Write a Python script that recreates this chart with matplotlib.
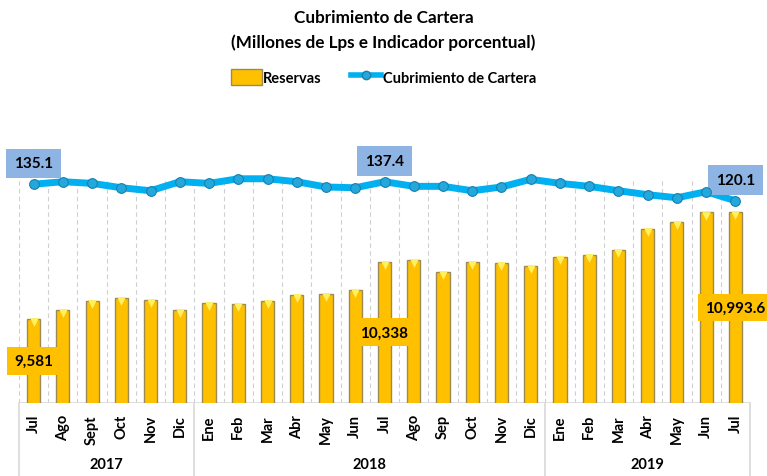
import matplotlib.pyplot as plt
from matplotlib.patches import Patch
from matplotlib.lines import Line2D

plt.rcParams['font.family'] = ['Lato', 'DejaVu Sans']

# data
months = ['Jul', 'Ago', 'Sept', 'Oct', 'Nov', 'Dic',
          'Ene', 'Feb', 'Mar', 'Abr', 'May', 'Jun', 'Jul', 'Ago', 'Sep', 'Oct', 'Nov', 'Dic',
          'Ene', 'Feb', 'Mar', 'Abr', 'May', 'Jun', 'Jul']
years = ['2017', '2018', '2019']
year_counts = [6, 12, 7]
reservas = [9581, 9700, 9819, 9858, 9832, 9700,
            9792, 9779, 9819, 9898, 9911, 9964, 10338, 10360, 10201, 10333, 10320, 10280,
            10400, 10426, 10492, 10769, 10861, 10990, 10993.6]
cubrimiento = [135.1, 137.4, 135.9, 131.9, 129.2, 137.4,
               135.9, 140.1, 140.1, 137.4, 132.6, 131.9, 137.4, 133.2, 133.2, 129.2, 132.6, 139.6,
               135.9, 133.2, 129.2, 125.6, 122.8, 128.3, 120.1]
label_idx = [0, 12, 24]
bar_fmt = ['{:,.0f}', '{:,.0f}', '{:,.1f}']

gold = '#FFC000'
blue = '#00B0F0'
grid_c = '#D9D9D9'

fig = plt.figure(figsize=(7.67, 4.77), dpi=100)
ax = fig.add_axes([19/767, 73/477, 731/767, 226/477])
ax2 = ax.twinx()

x = list(range(len(months)))
ymin, ymax = 8472, 11455
ax.set_xlim(-0.5, len(months) - 0.5)
ax.set_ylim(ymin, ymax)
ax2.set_ylim(-64.0, 141.7)

# dashed gridlines between categories
bounds = [i - 0.5 for i in range(len(months) + 1)]
ax.vlines(bounds, 0, 0.99, transform=ax.get_xaxis_transform(), colors='#CFCFCF',
          linestyles=(0, (4, 3)), linewidth=0.8, zorder=0)

# bars
ax.bar(x, reservas, width=0.45, color=gold, edgecolor='#9C8A55', linewidth=1.0, zorder=2)
ax.scatter(x, [v - 45 for v in reservas], marker='v', s=40, color='#FFF060',
           linewidths=0, zorder=3)

for i, f in zip(label_idx, bar_fmt):
    ax.text(i, (ymin + reservas[i]) / 2, f.format(reservas[i]), ha='center', va='center',
            fontsize=11, fontweight='bold', color='black', zorder=5,
            bbox=dict(boxstyle='square,pad=0.45', facecolor=gold, edgecolor='none'))

# line
ax2.plot(x, cubrimiento, color=blue, linewidth=5, solid_capstyle='round', zorder=3,
         clip_on=False)
ax2.plot(x, cubrimiento, linestyle='none', marker='o', markersize=7,
         markerfacecolor='#22A8DC', markeredgecolor='#1B7FAA', markeredgewidth=0.8,
         zorder=4, clip_on=False)
for i in label_idx:
    ax2.annotate('{:.1f}'.format(cubrimiento[i]), (i, cubrimiento[i]),
                 xytext=(0, 15), textcoords='offset points', ha='center', va='center',
                 fontsize=11, fontweight='bold', color='black',
                 bbox=dict(boxstyle='square,pad=0.5', facecolor='#8EB4E3', edgecolor='none'),
                 annotation_clip=False)

# axes styling
for a in (ax, ax2):
    for s in a.spines.values():
        s.set_visible(False)
    a.set_yticks([])
ax.axhline(ymin, color=grid_c, linewidth=1.2, zorder=1)
ax.set_xticks(x)
ax.set_xticklabels(months, rotation=90, fontsize=10.5, fontweight='bold')
ax.tick_params(axis='x', length=0, pad=8)

# year groups
trans = ax.get_xaxis_transform()
start = 0
seps = [-0.5]
for yr, n in zip(years, year_counts):
    center = start + (n - 1) / 2
    ax.text(center, -0.27, yr, transform=trans, ha='center', va='center',
            fontsize=10.5, fontweight='bold')
    start += n
    seps.append(start - 0.5)
for s in seps:
    ax.plot([s, s], [0, -0.33], transform=trans, color=grid_c, linewidth=1.2, clip_on=False)

# title
fig.text(0.5, 1 - 18/477, 'Cubrimiento de Cartera', ha='center', va='center',
         fontsize=12.3, fontweight='bold')
fig.text(0.5, 1 - 43/477, '(Millones de Lps e Indicador porcentual)', ha='center',
         va='center', fontsize=12.3, fontweight='bold')

handles = [Patch(facecolor=gold, edgecolor='#9C8A55', label='Reservas'),
           Line2D([], [], color=blue, linewidth=4, marker='o', markersize=6,
                  markerfacecolor='#22A8DC', markeredgecolor='#1B7FAA',
                  label='Cubrimiento de Cartera')]
leg = fig.legend(handles=handles, loc='center', bbox_to_anchor=(0.5, 1 - 78/477), ncol=2,
                 frameon=False, fontsize=10.5, handlelength=2.1, handleheight=1.4,
                 handletextpad=0.1, columnspacing=2.0)
for t in leg.get_texts():
    t.set_fontweight('bold')

fig.savefig('out.png', dpi=100)
